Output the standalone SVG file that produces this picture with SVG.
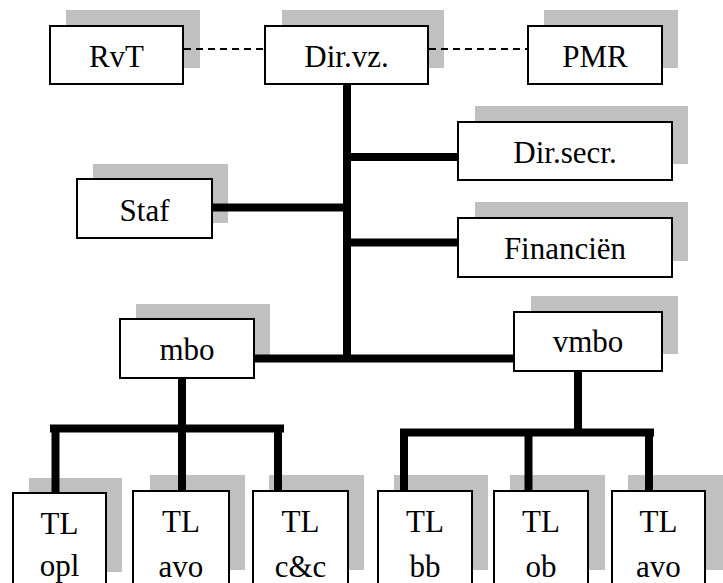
<svg xmlns="http://www.w3.org/2000/svg" width="723" height="583" viewBox="0 0 723 583">
<style>
.sh{fill:#c0c0c0}
.bx{fill:#fff;stroke:#000;stroke-width:2}
.t{font-size:31px;fill:#000;text-anchor:middle}
.ln{stroke:#000;stroke-width:8;fill:none;stroke-linecap:butt}
.ds{stroke:#000;stroke-width:2;stroke-dasharray:7 5;fill:none}
</style>
<g font-family="Liberation Serif, Tinos, Times New Roman, Times, Nimbus Roman, FreeSerif, Noto Serif, DejaVu Serif, serif">
<g id="RvT"><rect class="sh" x="66" y="10" width="134" height="58"/><rect class="bx" x="50" y="26" width="133" height="58"/><text class="t" x="116.5" y="67">RvT</text></g>
<g id="Dirvz"><rect class="sh" x="282" y="10" width="162" height="58"/><rect class="bx" x="265" y="26" width="163" height="58"/><text class="t" x="346.5" y="67">Dir.vz.</text></g>
<g id="PMR"><rect class="sh" x="544" y="10" width="134" height="58"/><rect class="bx" x="528" y="26" width="134" height="58"/><text class="t" x="595" y="67">PMR</text></g>
<g id="Dirsecr"><rect class="sh" x="475" y="106" width="213" height="58"/><rect class="bx" x="458" y="122" width="214" height="58"/><text class="t" x="565" y="163">Dir.secr.</text></g>
<g id="Financien"><rect class="sh" x="475" y="202" width="213" height="59"/><rect class="bx" x="458" y="218" width="214" height="59"/><text class="t" x="565" y="259">Financiën</text></g>
<g id="Staf"><rect class="sh" x="93" y="164" width="135" height="59"/><rect class="bx" x="77" y="179" width="135" height="59"/><text class="t" x="144.5" y="221">Staf</text></g>
<g id="mbo"><rect class="sh" x="136" y="304" width="134" height="58"/><rect class="bx" x="120" y="319" width="134" height="59"/><text class="t" x="187" y="360">mbo</text></g>
<g id="vmbo"><rect class="sh" x="531" y="296" width="147" height="58"/><rect class="bx" x="514" y="312" width="148" height="59"/><text class="t" x="588" y="352">vmbo</text></g>
<g id="TLopl"><rect class="sh" x="29" y="478" width="93" height="94"/><rect class="bx" x="13" y="493" width="93" height="95"/><text class="t" x="59.5" y="534">TL</text><text class="t" x="59.5" y="576">opl</text></g>
<g id="TLavo1"><rect class="sh" x="150" y="475" width="95" height="95"/><rect class="bx" x="133" y="491" width="96" height="95"/><text class="t" x="181" y="532">TL</text><text class="t" x="181" y="577">avo</text></g>
<g id="TLcc"><rect class="sh" x="269" y="475" width="95" height="95"/><rect class="bx" x="253" y="491" width="95" height="95"/><text class="t" x="300.5" y="532">TL</text><text class="t" x="300.5" y="577">c&amp;c</text></g>
<g id="TLbb"><rect class="sh" x="394" y="475" width="94" height="95"/><rect class="bx" x="378" y="491" width="94" height="95"/><text class="t" x="425" y="532">TL</text><text class="t" x="425" y="577">bb</text></g>
<g id="TLob"><rect class="sh" x="510" y="475" width="95" height="95"/><rect class="bx" x="494" y="491" width="94" height="95"/><text class="t" x="541" y="532">TL</text><text class="t" x="541" y="577">ob</text></g>
<g id="TLavo2"><rect class="sh" x="628" y="475" width="95" height="95"/><rect class="bx" x="612" y="491" width="93" height="95"/><text class="t" x="658.5" y="532">TL</text><text class="t" x="658.5" y="577">avo</text></g>
</g>
<g id="connectors">
<line class="ds" x1="184" y1="49" x2="264" y2="49"/>
<line class="ds" x1="429" y1="49" x2="527" y2="49"/>
<line class="ln" x1="347" y1="85" x2="347" y2="362"/>
<line class="ln" x1="212" y1="207.5" x2="347" y2="207.5"/>
<line class="ln" x1="347" y1="157" x2="457" y2="157"/>
<line class="ln" x1="347" y1="242.5" x2="457" y2="242.5"/>
<line class="ln" x1="255" y1="358.5" x2="513" y2="358.5"/>
<line class="ln" x1="182" y1="379" x2="182" y2="432"/>
<line class="ln" x1="50" y1="428.5" x2="284" y2="428.5"/>
<line class="ln" x1="55.5" y1="428" x2="55.5" y2="492"/>
<line class="ln" x1="182" y1="428" x2="182" y2="490"/>
<line class="ln" x1="278" y1="428" x2="278" y2="490"/>
<line class="ln" x1="578" y1="372" x2="578" y2="432"/>
<line class="ln" x1="400" y1="432.5" x2="654" y2="432.5"/>
<line class="ln" x1="404" y1="432" x2="404" y2="490"/>
<line class="ln" x1="528.5" y1="432" x2="528.5" y2="490"/>
<line class="ln" x1="649" y1="432" x2="649" y2="490"/>
</g>
</svg>
